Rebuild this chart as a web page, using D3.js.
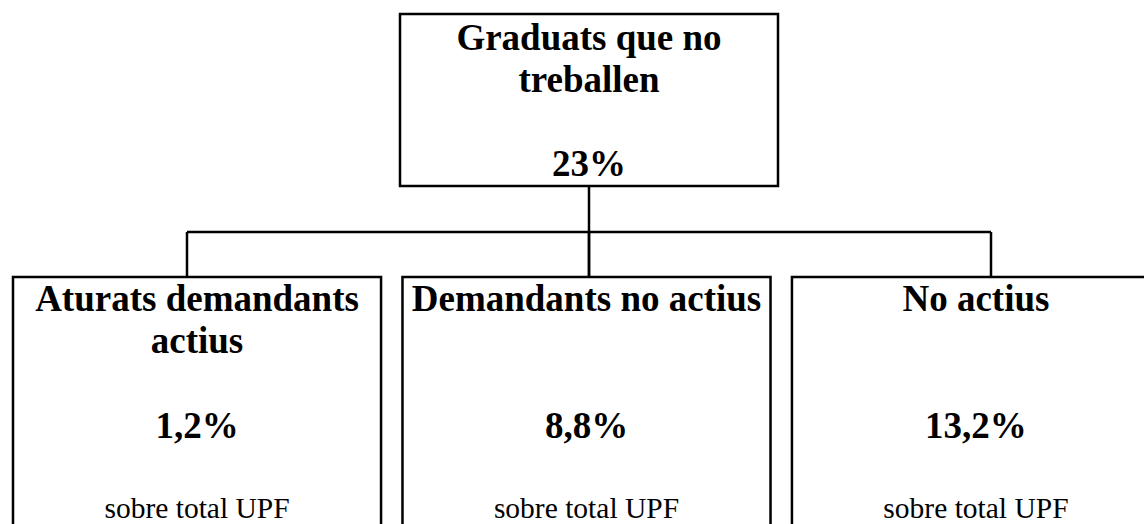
<!DOCTYPE html>
<html lang="ca">
<head>
    <meta charset="UTF-8">
    <title>Graduats que no treballen</title>
    <script src="https://d3js.org/d3.v7.min.js"></script>
    <style>
        body { margin: 0; background: #fff; }
        .box { fill: none; stroke: #000; stroke-width: 2.5px; }
        .link { fill: none; stroke: #000; stroke-width: 2.5px; }
        text { font-family: "Liberation Serif", "Times New Roman", serif; fill: #000; }
        .title, .value { font-weight: bold; font-size: 37px; }
        .sub { font-size: 29.5px; }
    </style>
</head>
<body>
    <div id="chart"></div>
    <script>
        // data
        var rootTitle = ["Graduats que no", "treballen"];
        var rootValue = "23%";
        var categories = ["Aturats demandants actius", "Demandants no actius", "No actius"];
        var catTitles = [["Aturats demandants", "actius"], ["Demandants no actius"], ["No actius"]];
        var values = ["1,2%", "8,8%", "13,2%"];
        var subLabel = "sobre total UPF";

        const width = 1144, height = 524;
        const lineH = 42.3;

        var svg = d3.select("#chart")
            .append("svg")
            .attr("width", width)
            .attr("height", height);

        // boxes for children
        var x = d3.scaleBand()
            .domain(categories)
            .range([13, 1160])
            .paddingInner(0.055);

        // connector drop points
        var xLink = d3.scalePoint()
            .domain(categories)
            .range([187, 991]);

        var rootX = 589, rootW = 378, rootTop = 14, rootBottom = 186;
        var barY = 232, childTop = 277;

        // root box
        svg.append("rect")
            .attr("class", "box")
            .attr("x", rootX - rootW / 2)
            .attr("y", rootTop)
            .attr("width", rootW)
            .attr("height", rootBottom - rootTop);

        svg.selectAll(".rootline")
            .data(rootTitle)
            .enter()
            .append("text")
            .attr("class", "title")
            .attr("text-anchor", "middle")
            .attr("x", rootX)
            .attr("y", function (d, i) { return 50 + i * lineH; })
            .text(function (d) { return d; });

        svg.append("text")
            .attr("class", "value")
            .attr("text-anchor", "middle")
            .attr("x", rootX)
            .attr("y", 50 + 3 * lineH - 0.5)
            .text(rootValue);

        // connectors
        svg.append("path")
            .attr("class", "link")
            .attr("d", "M" + rootX + "," + rootBottom + "V" + childTop);
        svg.append("path")
            .attr("class", "link")
            .attr("d", "M" + xLink(categories[0]) + "," + barY + "H" + xLink(categories[2]));
        svg.selectAll(".drop")
            .data(categories)
            .enter()
            .append("path")
            .attr("class", "link")
            .attr("d", function (d) { return "M" + xLink(d) + "," + barY + "V" + childTop; });

        // child boxes (open at the bottom, they run off the page)
        var g = svg.selectAll(".child")
            .data(categories)
            .enter()
            .append("g")
            .attr("class", "child");

        g.append("rect")
            .attr("class", "box")
            .attr("x", function (d) { return x(d); })
            .attr("y", childTop)
            .attr("width", x.bandwidth())
            .attr("height", 300);

        g.each(function (d, i) {
            var cx = x(d) + x.bandwidth() / 2;
            var sel = d3.select(this);
            sel.selectAll(".t")
                .data(catTitles[i])
                .enter()
                .append("text")
                .attr("class", "title")
                .attr("text-anchor", "middle")
                .attr("x", cx)
                .attr("y", function (t, j) { return 311 + j * lineH; })
                .text(function (t) { return t; });
            sel.append("text")
                .attr("class", "value")
                .attr("text-anchor", "middle")
                .attr("x", cx)
                .attr("y", 311 + 3 * lineH)
                .text(values[i]);
            sel.append("text")
                .attr("class", "sub")
                .attr("text-anchor", "middle")
                .attr("x", cx)
                .attr("y", 311 + 3 * lineH + 80)
                .text(subLabel);
        });
    </script>
</body>
</html>
